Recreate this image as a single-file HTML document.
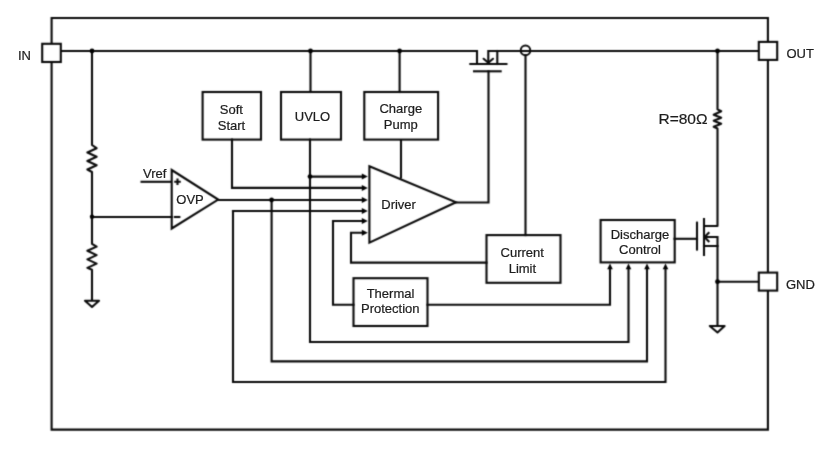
<!DOCTYPE html>
<html>
<head>
<meta charset="utf-8">
<style>
html,body{margin:0;padding:0;background:#fff;}
body{width:825px;height:464px;overflow:hidden;}
svg{display:block;will-change:transform;}
text{font-family:"Liberation Sans",sans-serif;font-size:13px;fill:#1e1e1e;stroke:#1e1e1e;stroke-width:0.22px;}
</style>
</head>
<body>
<svg width="825" height="464" viewBox="0 0 825 464">
<defs><filter id="bl" x="0" y="0" width="825" height="464" filterUnits="userSpaceOnUse" color-interpolation-filters="sRGB"><feConvolveMatrix order="3" kernelMatrix="1 4 1 4 16 4 1 4 1" divisor="36" edgeMode="duplicate" preserveAlpha="false"/></filter></defs>
<g filter="url(#bl)">
<rect x="0" y="0" width="825" height="464" fill="#fff"/>
<g fill="none" stroke="#0a0a0a" stroke-width="2.1" stroke-linecap="square" stroke-linejoin="miter">
  <!-- outer rect -->
  <path d="M51.6,18 H767.9 V429.6 H51.6 Z"/>
  <!-- top rail -->
  <path d="M60.5,51 H477 V64"/>
  <path d="M488.3,63 V51 H759"/>
  <path d="M497.3,51 V64"/>
  <!-- top mosfet -->
  <path d="M469.3,64 H507.5" stroke-linecap="butt"/>
  <path d="M473,71.3 H501.7" stroke-linecap="butt"/>
  <path d="M483.6,58.8 L488.3,62.8 L493,58.8" stroke-linecap="round" stroke-linejoin="round"/>
  <path d="M488.5,71.3 V202.5 H455.7"/>
  <!-- block top lines -->
  <path d="M310.5,51 V92"/>
  <path d="M399.6,51 V92"/>
  <!-- boxes -->
  <rect x="202.6" y="92" width="58.4" height="47.6"/>
  <rect x="281" y="92" width="60" height="47.6"/>
  <rect x="364.3" y="92" width="73.8" height="47.6"/>
  <rect x="353.5" y="278.2" width="74" height="47.8"/>
  <rect x="486.5" y="235.1" width="74" height="47.7"/>
  <rect x="600.6" y="220" width="74.1" height="42.4"/>
  <!-- driver triangle -->
  <path d="M369.4,166.3 L456,202.3 L369.4,242.6 Z"/>
  <!-- OVP triangle -->
  <path d="M171.7,170 L218.2,199.6 L171.7,228.5 Z"/>
  <!-- charge pump down -->
  <path d="M401,139.6 V178.5" stroke-linecap="butt"/>
  <!-- soft start -->
  <path d="M232,139.6 V187.9 H363"/>
  <!-- uvlo -->
  <path d="M310,139.6 V342 H628.5 V268"/>
  <path d="M310,176.6 H363"/>
  <!-- ovp out -->
  <path d="M218.2,200 H363"/>
  <path d="M271.6,200 V361.4 H647 V268"/>
  <!-- line 4 -->
  <path d="M233,211 H363"/>
  <path d="M233,211 V382 H665.5 V268"/>
  <!-- line 5 thermal -->
  <path d="M363,221 H333 V304.7 H353.5"/>
  <path d="M427.5,304.7 H610 V268"/>
  <!-- line 6 current limit -->
  <path d="M363,232.7 H351 V262.6 H486.5"/>
  <!-- current limit top -->
  <path d="M525.5,55.3 V235.1"/>
  <!-- left divider -->
  <path d="M92,51 V145 L96.6,148.2 L87.4,152.5 L96.6,156.8 L87.4,161 L96.6,165.2 L87.4,169.5 L92,172 V243.8 L96.6,246.6 L87.4,250.8 L96.6,255.1 L87.4,259.4 L96.6,263.6 L87.4,267.9 L92,269.8 V300.8" stroke-linejoin="round" stroke-linecap="butt"/>
  <path d="M85,300.8 H99 L92,307 Z" stroke-linejoin="round"/>
  <!-- minus input -->
  <path d="M92,217 H171.7"/>
  <path d="M173.8,217 H180.4" stroke-linecap="butt"/>
  <!-- vref -->
  <path d="M140.5,181.8 H171.7" stroke-linecap="butt"/>
  <path d="M174.2,181.8 H180.8 M177.5,178.5 V185.1" stroke-linecap="butt"/>
  <!-- right side -->
  <path d="M717.5,51 V109.4 L721.2,111.3 L713.7,114.7 L721.2,117.7 L713.7,120.7 L721.2,123.7 L713.7,126.8 L717.5,128.5 V226 H704" stroke-linejoin="round" stroke-linecap="butt"/>
  <path d="M674.5,238.8 H697"/>
  <path d="M697,221.6 V250.6" stroke-linecap="butt"/>
  <path d="M704,218 V256" stroke-linecap="butt"/>
  <path d="M704,246 H717.5 V237 H705"/>
  <path d="M709.3,232.3 L704.5,237 L709.3,242" stroke-linecap="butt"/>
  <path d="M717.5,246 V325.5"/>
  <path d="M717.5,281.7 H759"/>
  <path d="M709.8,326 H724.6 L717.5,332.5 Z" stroke-linejoin="round"/>
  <!-- pins -->
  <rect x="42.2" y="43.8" width="18.6" height="18.2" fill="#fff"/>
  <rect x="758.8" y="41.9" width="18.4" height="18" fill="#fff"/>
  <rect x="758.8" y="272.6" width="18.4" height="18" fill="#fff"/>
  <!-- circle -->
  <circle cx="525.5" cy="50.4" r="4.8" stroke-width="2"/>
</g>
<!-- arrowheads -->
<g fill="#000" stroke="none">
  <path d="M367.8,176.6 L361.8,173.6 L361.8,179.6 Z"/>
  <path d="M367.8,187.9 L361.8,184.9 L361.8,190.9 Z"/>
  <path d="M367.8,200 L361.8,197.0 L361.8,203.0 Z"/>
  <path d="M367.8,211 L361.8,208.0 L361.8,214.0 Z"/>
  <path d="M367.8,221 L361.8,218.0 L361.8,224.0 Z"/>
  <path d="M367.8,232.7 L361.8,229.7 L361.8,235.7 Z"/>
    
  
  
  
  
  
  <path d="M610,263.5 L607.2,269.2 L612.8,269.2 Z"/>
  <path d="M628.5,263.5 L625.7,269.2 L631.3,269.2 Z"/>
  <path d="M647,263.5 L644.2,269.2 L649.8,269.2 Z"/>
  <path d="M665.5,263.5 L662.7,269.2 L668.3,269.2 Z"/>
  <!-- dots -->
  <circle cx="92" cy="51" r="2.4"/>
  <circle cx="310.5" cy="51" r="2.4"/>
  <circle cx="399.6" cy="51" r="2.4"/>
  <circle cx="717.5" cy="51" r="2.4"/>
  <circle cx="92" cy="216.8" r="2.2"/>
  <circle cx="310" cy="176.6" r="2.4"/>
  <circle cx="271.6" cy="200" r="2.4"/>
  <circle cx="717.5" cy="281.7" r="2.4"/>
</g>
</g>
<!-- labels -->
<text x="18" y="59.8">IN</text>
<text x="786.5" y="58.1">OUT</text>
<text x="786" y="289.2">GND</text>
<text x="231.3" y="113.6" text-anchor="middle">Soft</text>
<text x="231.5" y="130" text-anchor="middle">Start</text>
<text x="312.5" y="121.2" text-anchor="middle">UVLO</text>
<text x="400.8" y="112.6" text-anchor="middle">Charge</text>
<text x="400.8" y="128.9" text-anchor="middle">Pump</text>
<text x="398.6" y="209.1" text-anchor="middle">Driver</text>
<text x="190" y="204" text-anchor="middle">OVP</text>
<text x="143" y="178.3">Vref</text>
<text x="522.2" y="256.9" text-anchor="middle">Current</text>
<text x="522.4" y="273.3" text-anchor="middle">Limit</text>
<text x="390.5" y="298.4" text-anchor="middle">Thermal</text>
<text x="390.3" y="313.3" text-anchor="middle">Protection</text>
<text x="640" y="239.1" text-anchor="middle">Discharge</text>
<text x="640" y="254.2" text-anchor="middle">Control</text>
<text x="658.5" y="123.6" style="font-size:15.5px">R=80Ω</text>
</svg>
</body>
</html>
